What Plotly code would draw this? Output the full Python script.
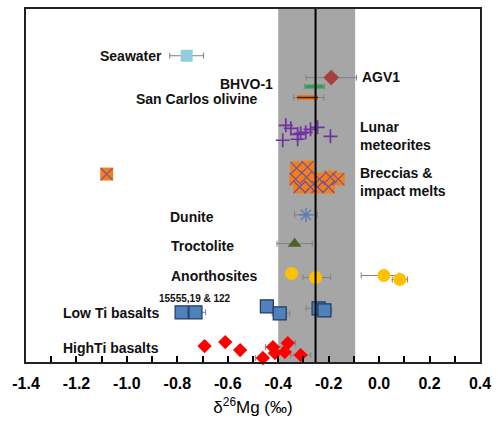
import plotly.graph_objects as go

# ---------------- data ----------------
tick_vals = [-1.4, -1.2, -1.0, -0.8, -0.6, -0.4, -0.2, 0.0, 0.2, 0.4]
tick_text = ["-1.4", "-1.2", "-1.0", "-0.8", "-0.6", "-0.4", "-0.2", "0.0", "0.2", "0.4"]

band_lo, band_hi = -0.40, -0.095
mean_line = -0.252

seawater_x = [-0.763]; seawater_y = [308]; seawater_e = [0.067]
agv1_x = [-0.19]; agv1_y = [286]; agv1_e = [0.10]
bhvo_x = [-0.256]; bhvo_y = [277]; bhvo_e = [0.04]
sco_x = [-0.284]; sco_y = [266]; sco_ep = [0.065]; sco_em = [0.055]

lunar_x = [-0.370, -0.350, -0.323, -0.311, -0.291, -0.272, -0.244, -0.193, -0.382, -0.323]
lunar_y = [238, 235, 229, 230, 231, 234, 236, 227, 223, 224]

brec_x = [-0.327, -0.284, -0.331, -0.288, -0.315, -0.272, -0.237, -0.193, -0.162, -0.244, -0.201, -1.08]
brec_y = [195, 196, 184, 186, 176, 176, 184, 186, 184, 176, 176, 189]

dunite_x = [-0.29]; dunite_y = [148]; dunite_e = [0.045]
troc_x = [-0.335]; troc_y = [119]; troc_e = [0.07]

anor_x = [-0.347, -0.252, 0.019, 0.082]
anor_y = [89, 85, 87, 83]
anor_ep = [0.02, 0.06, 0.06, 0.03]
anor_em = [0.02, 0.05, 0.09, 0.03]

lowti_x = [-0.783, -0.728, -0.445, -0.394, -0.240, -0.217]
lowti_y = [50, 50, 56, 49, 54, 52]
lowti_ep = [0.0, 0.04, 0.0, 0.04, 0.0, 0.03]
lowti_em = [0.0, 0.0, 0.0, 0.03, 0.05, 0.0]

highti_x = [-0.692, -0.610, -0.551, -0.461, -0.421, -0.413, -0.374, -0.362, -0.311]
highti_y = [16, 20, 12, 4, 15, 9, 10, 19, 7]
highti_ep = [0.0, 0.0, 0.0, 0.0, 0.04, 0.0, 0.0, 0.03, 0.04]
highti_em = [0.0, 0.0, 0.0, 0.03, 0.03, 0.0, 0.0, 0.0, 0.04]

labels = [
    ("Seawater", -0.854, 308, "right"),
    ("AGV1", -0.075, 287, "left"),
    ("BHVO-1", -0.413, 280, "right"),
    ("San Carlos olivine", -0.472, 264, "right"),
    ("Lunar<br>meteorites", -0.085, 227, "left"),
    ("Breccias &amp;<br>impact melts", -0.085, 181, "left"),
    ("Dunite", -0.645, 146, "right"),
    ("Troctolite", -0.567, 117, "right"),
    ("Anorthosites", -0.472, 86, "right"),
    ("Low Ti basalts", -0.865, 49, "right"),
    ("HighTi basalts", -0.865, 14, "right"),
]
small_label = ("15555,19 &amp; 122", -0.728, 64)

# ---------------- figure ----------------
ERR = dict(type="data", symmetric=True, color="#808080", thickness=1, width=3)


def err(plus, minus=None):
    d = dict(ERR)
    if minus is None:
        d["array"] = plus
    else:
        d["symmetric"] = False
        d["array"] = plus
        d["arrayminus"] = minus
    return d


fig = go.Figure()

common = dict(mode="markers", showlegend=False, cliponaxis=False, hoverinfo="skip")

fig.add_trace(go.Scatter(x=seawater_x, y=seawater_y, error_x=err(seawater_e),
                         marker=dict(symbol="square", size=12, color="#92CDDC"), **common))
fig.add_trace(go.Scatter(x=agv1_x, y=agv1_y, error_x=err(agv1_e),
                         marker=dict(symbol="diamond", size=12, color="#A5403C"), **common))
fig.add_trace(go.Scatter(x=bhvo_x, y=bhvo_y, error_x=err(bhvo_e),
                         marker=dict(symbol="line-ew", size=13, line=dict(color="#2EA150", width=4)), **common))
fig.add_trace(go.Scatter(x=sco_x, y=sco_y, error_x=err(sco_ep, sco_em),
                         marker=dict(symbol="line-ew", size=15, line=dict(color="#E97A25", width=5)), **common))
fig.add_trace(go.Scatter(x=sco_x, y=sco_y,
                         marker=dict(symbol="line-ew", size=15, line=dict(color="#3A2010", width=1.5)), **common))
fig.add_trace(go.Scatter(x=lunar_x, y=lunar_y,
                         marker=dict(symbol="cross-thin", size=10, line=dict(color="#7030A0", width=1.7)), **common))
fig.add_trace(go.Scatter(x=brec_x, y=brec_y,
                         marker=dict(symbol="square", size=13, color="#F07F1C"), **common))
fig.add_trace(go.Scatter(x=brec_x, y=brec_y,
                         marker=dict(symbol="x-thin", size=12, line=dict(color="#7050A0", width=1.1)), **common))
fig.add_trace(go.Scatter(x=dunite_x, y=dunite_y, error_x=err(dunite_e),
                         marker=dict(symbol="asterisk", size=12, line=dict(color="#5E7DB5", width=1.5)), **common))
fig.add_trace(go.Scatter(x=troc_x, y=troc_y, error_x=err(troc_e),
                         marker=dict(symbol="triangle-up", size=12, color="#4F6228"), **common))
fig.add_trace(go.Scatter(x=anor_x, y=anor_y, error_x=err(anor_ep, anor_em),
                         marker=dict(symbol="circle", size=13, color="#FFC000"), **common))
fig.add_trace(go.Scatter(x=lowti_x, y=lowti_y, error_x=err(lowti_ep, lowti_em),
                         marker=dict(symbol="square", size=13, color="#4F81BD",
                                     line=dict(color="#1F3864", width=1.2)), **common))
fig.add_trace(go.Scatter(x=highti_x, y=highti_y, error_x=err(highti_ep, highti_em),
                         marker=dict(symbol="diamond", size=11, color="#FF0000"), **common))

# gray band and mean line
fig.add_shape(type="rect", xref="x", yref="paper", x0=band_lo, x1=band_hi, y0=0, y1=1,
              fillcolor="#A6A6A6", line=dict(width=0), layer="below")
fig.add_shape(type="line", xref="x", yref="paper", x0=mean_line, x1=mean_line, y0=0, y1=1,
              line=dict(color="black", width=2), layer="above")

LFONT = dict(family="Liberation Sans, Arial, sans-serif", size=14, color="#111111")
for txt, x, y, anc in labels:
    fig.add_annotation(x=x, y=y, text="<b>%s</b>" % txt, showarrow=False, xanchor=anc,
                       yanchor="middle", align="left", font=LFONT)
fig.add_annotation(x=small_label[1], y=small_label[2], text="<b>%s</b>" % small_label[0],
                   showarrow=False, font=dict(family="Liberation Sans, Arial, sans-serif", size=10,
                                               color="#111111"))

fig.update_layout(
    width=498, height=432,
    margin=dict(l=26, r=14, t=7, b=70),
    paper_bgcolor="white", plot_bgcolor="white",
    xaxis=dict(range=[-1.4, 0.4], tickvals=tick_vals, ticktext=tick_text,
               ticks="inside", ticklen=6, tickwidth=1.5, tickcolor="black",
               minor=dict(dtick=0.1, tick0=-1.4, ticks="inside", ticklen=6, tickwidth=1.5, tickcolor="black"),
               showline=True, linecolor="#222222", linewidth=2, mirror=True,
               showgrid=False, zeroline=False,
               tickfont=dict(family="Liberation Sans, Arial, sans-serif", size=16, color="black",
                             weight="bold"),
               ticklabelstandoff=6,
               title=dict(text="δ<sup>26</sup>Mg (‰)", standoff=10,
                          font=dict(family="Liberation Sans, Arial, sans-serif", size=17, color="black"))),
    yaxis=dict(range=[0, 355], showticklabels=False, ticks="", showgrid=False, zeroline=False,
               showline=True, linecolor="#222222", linewidth=2, mirror=True),
)

fig.write_html("out.html")
